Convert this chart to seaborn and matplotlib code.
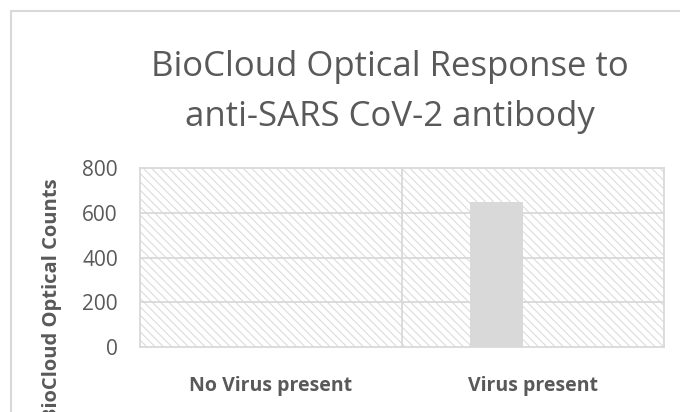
import matplotlib
matplotlib.use("Agg")
import matplotlib.pyplot as plt
import seaborn as sns
from matplotlib.patches import Rectangle
from matplotlib.lines import Line2D

categories = ["No Virus present", "Virus present"]
values = [0, 648]
y_ticks = [0, 200, 400, 600, 800]
title = "BioCloud Optical Response to\nanti-SARS CoV-2 antibody"
ylabel = "BioCloud Optical Counts"

sns.set_theme(style="white")
plt.rcParams['font.family'] = ['Open Sans', 'DejaVu Sans']
plt.rcParams['hatch.linewidth'] = 0.7

W, H = 680, 412
fig = plt.figure(figsize=(6.8, 4.12), dpi=100)
ax = fig.add_axes([140 / W, 1 - 347 / H, (664 - 140) / W, (347 - 168) / H])

sns.barplot(x=categories, y=values, ax=ax, color="#D9D9D9", width=0.2,
            saturation=1, zorder=3)
for p in ax.patches:
    p.set_x(p.get_x() - 0.14)
    p.set_edgecolor("none")

ax.set_xlim(-0.5, 1.5)
ax.set_ylim(0, 800)
ax.set_yticks(y_ticks)
ax.set_yticklabels([str(v) for v in y_ticks], fontsize=15, color="#595959")
ax.tick_params(axis='y', length=0, pad=16)
ax.tick_params(axis='x', length=0, pad=21)
for lbl in ax.get_xticklabels():
    lbl.set_fontweight("bold")
    lbl.set_fontsize(14)
    lbl.set_color("#595959")

# hatched plot area background
ax.add_patch(Rectangle((0, 0), 1, 1, transform=ax.transAxes, facecolor="white",
                       edgecolor="#D8D8D8", linewidth=0, hatch="\\" * 4, zorder=0))
for v in y_ticks[1:-1]:
    ax.axhline(v, color="#D9D9D9", lw=1.3, zorder=1)
ax.axvline(0.5, color="#D9D9D9", lw=1.3, zorder=1)
for s in ax.spines.values():
    s.set_color("#D9D9D9")
    s.set_linewidth(1.3)
    s.set_visible(True)

ax.set_xlabel("")
ax.set_ylabel(ylabel, fontsize=14.5, fontweight="bold", color="#595959")
ax.yaxis.set_label_coords(-78 / (664 - 140), (347 - 300) / (347 - 168))

fig.text(0.5 * (148 + 632) / W, 1 - 92 / H, title, ha="center", va="center",
         fontsize=25, color="#595959", linespacing=1.6)

# chart outer border
fig.add_artist(Line2D([11 / W, 11 / W], [0, 1 - 11 / H], transform=fig.transFigure,
                      color="#D9D9D9", lw=1.5))
fig.add_artist(Line2D([11 / W, 1], [1 - 11 / H, 1 - 11 / H], transform=fig.transFigure,
                      color="#D9D9D9", lw=1.5))

fig.savefig("out.png", dpi=100, facecolor="white")
